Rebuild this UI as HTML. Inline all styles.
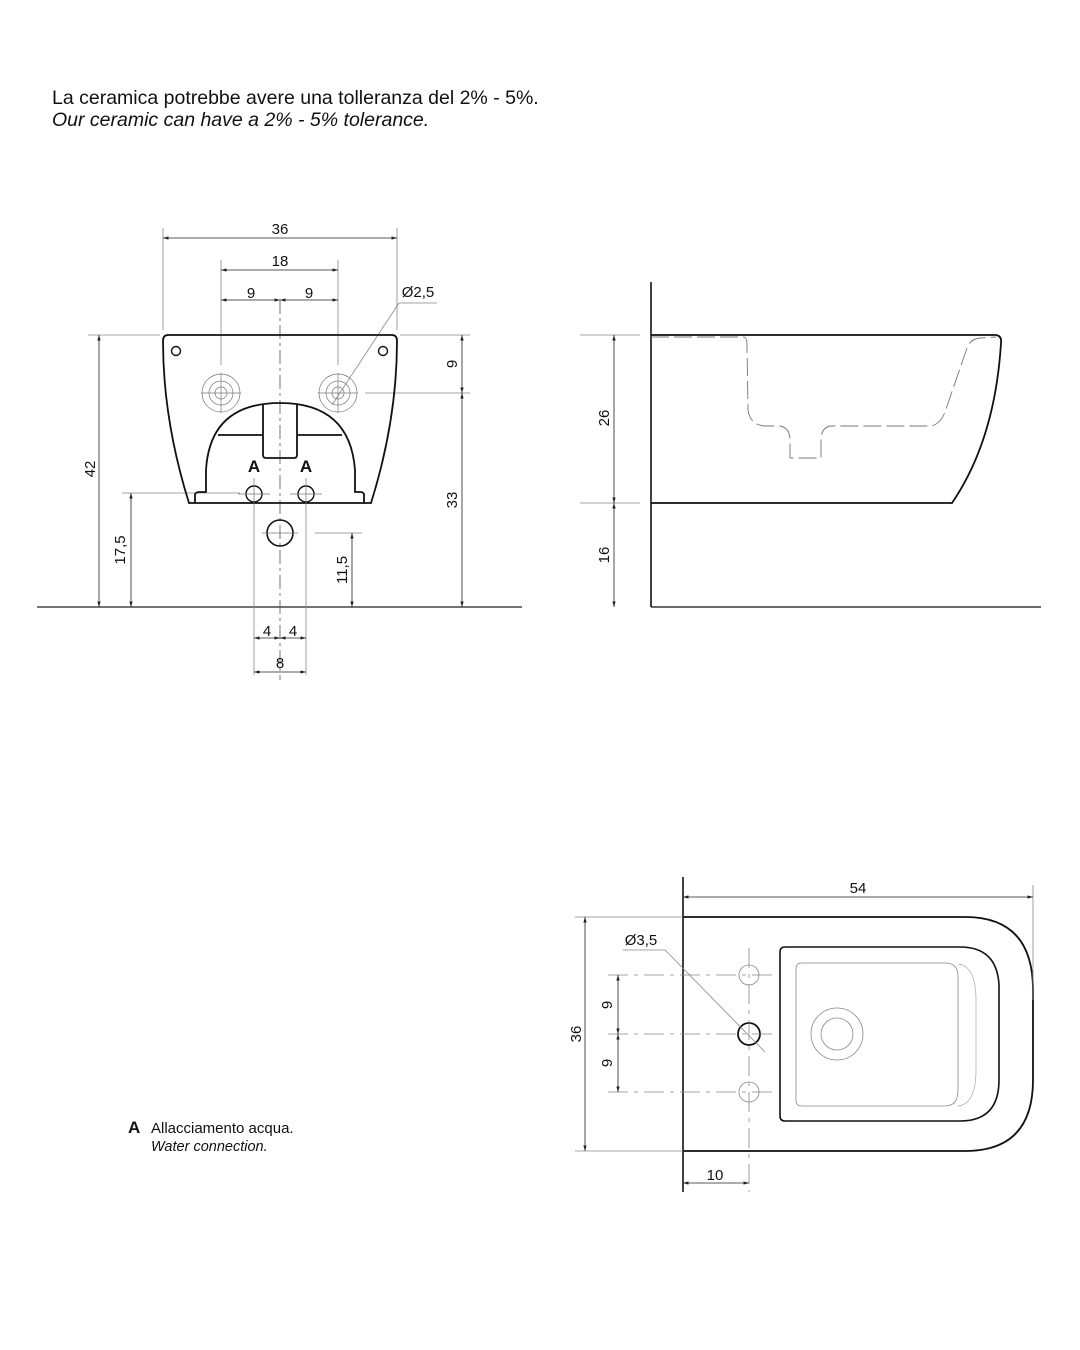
<!DOCTYPE html>
<html><head><meta charset="utf-8"><style>
html,body{margin:0;padding:0;background:#fff;}
svg{display:block;}
text{font-family:"Liberation Sans",sans-serif;fill:#111;}
</style></head><body>
<svg width="1080" height="1350" viewBox="0 0 1080 1350" xmlns="http://www.w3.org/2000/svg">
<defs>
<marker id="a" viewBox="0 0 10 10" refX="10" refY="5" markerWidth="7" markerHeight="7" orient="auto-start-reverse"><path d="M0,2 L10,5 L0,8z" fill="#222"/></marker>
</defs>
<text x="52" y="104" font-size="19.5">La ceramica potrebbe avere una tolleranza del 2% - 5%.</text>
<text x="52" y="126" font-size="19.5" font-style="italic">Our ceramic can have a 2% - 5% tolerance.</text>

<!-- FRONT VIEW -->
<g fill="none" stroke="#888" stroke-width="0.8">
<line x1="37" y1="607" x2="522" y2="607" stroke="#222" stroke-width="1.3"/>
<line x1="280" y1="300" x2="280" y2="680" stroke-dasharray="14,4,3,4" stroke="#555"/>
<line x1="163" y1="228" x2="163" y2="330"/><line x1="397" y1="228" x2="397" y2="330"/>
<line x1="221" y1="260" x2="221" y2="365"/><line x1="338" y1="260" x2="338" y2="365"/>
<line x1="88" y1="335" x2="160" y2="335"/><line x1="400" y1="335" x2="470" y2="335"/>
<line x1="365" y1="393" x2="470" y2="393"/>
<line x1="122" y1="493" x2="240" y2="493"/>
<line x1="315" y1="533" x2="362" y2="533"/>
<line x1="254" y1="510" x2="254" y2="675"/><line x1="306" y1="510" x2="306" y2="675"/>
<line x1="399" y1="303" x2="437" y2="303"/><line x1="399" y1="303" x2="332" y2="405"/>
</g>
<g stroke="#222" stroke-width="0.8" fill="none" marker-start="url(#a)" marker-end="url(#a)">
<line x1="163" y1="238" x2="397" y2="238"/>
<line x1="221" y1="270" x2="338" y2="270"/>
<line x1="221" y1="300" x2="280" y2="300"/><line x1="280" y1="300" x2="338" y2="300"/>
<line x1="462" y1="335" x2="462" y2="393"/><line x1="462" y1="393" x2="462" y2="607"/>
<line x1="99" y1="335" x2="99" y2="607"/>
<line x1="131" y1="493" x2="131" y2="607"/>
<line x1="352" y1="533" x2="352" y2="607"/>
<line x1="254" y1="638" x2="280" y2="638"/><line x1="280" y1="638" x2="306" y2="638"/>
<line x1="254" y1="672" x2="306" y2="672"/>
</g>
<g font-size="15" text-anchor="middle">
<text x="280" y="234">36</text><text x="280" y="266">18</text>
<text x="251" y="298">9</text><text x="309" y="298">9</text>
<text x="418" y="297">Ø2,5</text>
<text x="267" y="636">4</text><text x="293" y="636">4</text><text x="280" y="668">8</text>
<text transform="translate(457,364) rotate(-90)">9</text>
<text transform="translate(457,500) rotate(-90)">33</text>
<text transform="translate(95,469) rotate(-90)">42</text>
<text transform="translate(125,550) rotate(-90)">17,5</text>
<text transform="translate(347,570) rotate(-90)">11,5</text>
</g>
<g fill="none" stroke="#111" stroke-width="1.8">
<path d="M168,335 L392,335 Q397,335 397,341 Q397,420 371,503 L189,503 Q163,420 163,341 Q163,335 168,335Z"/>
<path d="M195,503 L195,495 Q195,492 200,492 L206,492 L206,470 Q210,403 280,403 Q350,403 355,470 L355,492 L360,492 Q364,492 364,495 L364,503"/>
<path d="M218,435 L263,435 M297,435 L342,435"/>
<path d="M263,404 L263,455 Q263,458 266,458 L294,458 Q297,458 297,455 L297,404"/>
<circle cx="176" cy="351" r="4.5" stroke-width="1.4"/><circle cx="383" cy="351" r="4.5" stroke-width="1.4"/>
<circle cx="254" cy="494" r="8" stroke-width="1.4"/><circle cx="306" cy="494" r="8" stroke-width="1.4"/>
<circle cx="280" cy="533" r="13" stroke-width="1.6"/>
</g>
<g fill="none" stroke="#777" stroke-width="0.7">
<circle cx="221" cy="393" r="19"/><circle cx="221" cy="393" r="12"/><circle cx="221" cy="393" r="6"/>
<circle cx="338" cy="393" r="19"/><circle cx="338" cy="393" r="12"/><circle cx="338" cy="393" r="6"/>
<path d="M201,393 H241 M221,373 V413 M318,393 H358 M338,373 V413"/>
<path d="M238,494 H270 M290,494 H322 M254,478 V510 M306,478 V510 M262,533 H298"/>
</g>
<g font-size="17" font-weight="bold" text-anchor="middle"><text x="254" y="472">A</text><text x="306" y="472">A</text></g>

<!-- SIDE VIEW -->
<g fill="none">
<line x1="651" y1="282" x2="651" y2="607" stroke="#111" stroke-width="1.6"/>
<line x1="651" y1="607" x2="1041" y2="607" stroke="#111" stroke-width="1.3"/>
<path d="M651,335 L996,335 Q1002,336 1001,343 Q995,440 952,503 L651,503" stroke="#111" stroke-width="1.8"/>
<path d="M651,337 L744,337 Q747,338 747,345 L748,410 Q750,425 765,426 L780,426 Q790,428 790,440 L790,458 L821,458 L821,440 Q821,428 830,426 L930,426 Q940,425 945,412 L967,348 Q970,339 980,338 L996,337" stroke="#777" stroke-width="0.9" stroke-dasharray="18,5"/>
<path d="M580,335 L640,335 M580,503 L640,503" stroke="#888" stroke-width="0.8"/>
<g stroke="#222" stroke-width="0.8" marker-start="url(#a)" marker-end="url(#a)">
<line x1="614" y1="335" x2="614" y2="503"/><line x1="614" y1="503" x2="614" y2="607"/>
</g>
</g>
<g font-size="15" text-anchor="middle">
<text transform="translate(609,418) rotate(-90)">26</text>
<text transform="translate(609,555) rotate(-90)">16</text>
</g>

<!-- TOP VIEW -->
<g fill="none">
<line x1="683" y1="877" x2="683" y2="1192" stroke="#111" stroke-width="1.6"/>
<path d="M683,917 L965,917 Q1033,917 1033,990 L1033,1080 Q1033,1151 965,1151 L683,1151" stroke="#111" stroke-width="1.8"/>
<path d="M785,947 L960,947 Q997,947 999,985 L999,1080 Q999,1121 960,1121 L785,1121 Q780,1121 780,1116 L780,952 Q780,947 785,947Z" stroke="#111" stroke-width="1.6"/>
<path d="M802,963 L945,963 Q958,963 958,976 L958,1090 Q958,1106 945,1106 L802,1106 Q796,1106 796,1100 L796,969 Q796,963 802,963Z" stroke="#888" stroke-width="0.8"/>
<path d="M958,964 Q976,966 976,1000 L976,1070 Q976,1104 958,1106" stroke="#aaa" stroke-width="0.7"/>
<circle cx="837" cy="1034" r="26" stroke="#888" stroke-width="0.8"/>
<circle cx="837" cy="1034" r="16" stroke="#888" stroke-width="0.8"/>
<circle cx="749" cy="975" r="10" stroke="#888" stroke-width="0.8"/>
<circle cx="749" cy="1092" r="10" stroke="#888" stroke-width="0.8"/>
<circle cx="749" cy="1034" r="11" stroke="#111" stroke-width="1.8"/>
<g stroke="#888" stroke-width="0.8" stroke-dasharray="20,6,4,6">
<line x1="608" y1="975" x2="776" y2="975"/><line x1="608" y1="1034" x2="776" y2="1034"/><line x1="608" y1="1092" x2="776" y2="1092"/>
<line x1="749" y1="948" x2="749" y2="1192"/>
</g>
<path d="M1033,885 L1033,1000 M575,917 L683,917 M575,1151 L683,1151 M623,950 L665,950 L765,1052" stroke="#888" stroke-width="0.8"/>
<g stroke="#222" stroke-width="0.8" marker-start="url(#a)" marker-end="url(#a)">
<line x1="683" y1="897" x2="1033" y2="897"/>
<line x1="585" y1="917" x2="585" y2="1151"/>
<line x1="618" y1="975" x2="618" y2="1034"/><line x1="618" y1="1034" x2="618" y2="1092"/>
<line x1="683" y1="1183" x2="749" y2="1183"/>
</g>
</g>
<g font-size="15" text-anchor="middle">
<text x="858" y="893">54</text>
<text x="641" y="945">Ø3,5</text>
<text x="715" y="1180">10</text>
<text transform="translate(581,1034) rotate(-90)">36</text>
<text transform="translate(612,1005) rotate(-90)">9</text>
<text transform="translate(612,1063) rotate(-90)">9</text>
</g>

<!-- LEGEND -->
<text x="128" y="1133" font-size="17" font-weight="bold">A</text>
<text x="151" y="1133" font-size="15">Allacciamento acqua.</text>
<text x="151" y="1151" font-size="14.5" font-style="italic">Water connection.</text>
</svg>
</body></html>
